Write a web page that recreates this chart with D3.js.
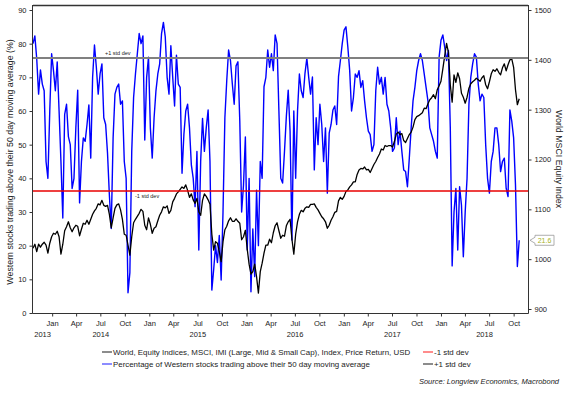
<!DOCTYPE html>
<html><head><meta charset="utf-8">
<script src="https://cdn.jsdelivr.net/npm/d3@7"></script>
<style>body{margin:0;background:#fff}svg{display:block;font-family:"Liberation Sans",Arial,sans-serif}</style>
</head><body><svg id="c" width="572" height="393"></svg>
<script>
// ---------- data ----------
const firstWeek = "2013-10-21";          // weekly observations start (Mondays)
const axisStart = "2013-10-21";
const axisEnd = "2018-11-24";

// Percentage of Western stocks trading above their 50 day moving average (left axis)
const pctAbove50dma = [
80,82.3,75.5,65,72.2,68,66,45,40,60,
77,72,66,74.6,60,45,28.2,59,62,52.4,
50,37,40,55,66.2,32.7,45,52,51,56,
61.8,46,70,79.6,73,65,71,74,58,56,
47.5,35,25.1,52,65,67,68,62,63,45,
40,6,12,48,64,71,77,83,80,82.3,
51.4,70,76,55,46,58,66,71,74,83,
86.3,82,70,65,79.4,70,61.5,76.6,68,67,
41.5,53,60,62,55,44,40,31.6,48,18.7,
45,57.8,48,55,60.3,45,6.8,13,20,15,
23,9.8,30,58,69,78.1,75,68,62,73.4,
74.6,57,30,38,52.3,18.7,40,6.3,25,10.8,
36.5,20,45,40,67.2,70,78.1,73,77,72,
82.6,80,60,40,38.6,48,58.4,66.2,54,21.7,
60,40,60,71,66,64,71.2,75.7,70,65,
70.1,42.5,58,50,62,56,45,55,35.6,53.4,
56,60.3,61.5,56,70.2,75,80,84,85,79,
72,60,64,71,70,72,67,69,63,58,
54,53,48,50,66,73,68,70,65,70,
62,60,55,48,49,58,50,54,48,42.5,
42,37.5,46,55,63,67,72,75,77,75,
71,67,63,55,53,51,48,46,76,81,
82.6,79,75,78,55,14,30,37,18.7,37.5,
32,16.7,30,40,62,70,74,77,76,68,
63,65,64,50,40,35.6,45,48,55,55,
50,42,45,46,37,34.6,60.3,57,52,38,
13.8,21.6];

// World MSCI IMI equity index, price return USD (right axis)
const worldIndex = [
1022,1030,1015,1030,1024,1030,1034,1028,1012,1032,
1045,1052,1050,1056,1045,1010,1030,1057,1065,1075,
1063,1055,1063,1068,1066,1047,1060,1072,1070,1078,
1070,1080,1090,1097,1102,1111,1109,1118,1108,1106,
1108,1090,1063,1083,1102,1109,1111,1099,1080,1050,
1048,1028,1008,1045,1073,1080,1086,1092,1100,1096,
1068,1059,1083,1070,1052,1062,1065,1077,1088,1095,
1105,1103,1107,1092,1098,1115,1122,1131,1135,1140,
1145,1142,1149,1138,1124,1131,1119,1112,1122,1095,
1088,1118,1131,1126,1119,1110,1050,1018,1035,1032,
1015,995,1035,1059,1066,1077,1083,1076,1076,1081,
1076,1072,1039,1045,1058,1020,990,970,975,990,
965,932,975,992,1012,1028,1028,1040,1033,1053,
1067,1073,1057,1042,1048,1046,1067,1075,1080,1040,
1010,1050,1075,1090,1098,1095,1102,1105,1104,1110,
1110,1111,1104,1099,1092,1085,1081,1075,1062,1068,
1078,1085,1094,1096,1117,1124,1120,1126,1136,1139,
1145,1149,1155,1155,1170,1179,1182,1181,1185,1179,
1180,1174,1182,1190,1196,1204,1211,1221,1219,1228,
1226,1228,1228,1225,1236,1251,1255,1250,1252,1238,
1234,1242,1250,1255,1265,1280,1286,1288,1291,1294,
1303,1302,1312,1320,1324,1330,1322,1340,1348,1357,
1382,1408,1433,1415,1350,1315,1370,1355,1374,1362,
1333,1325,1313,1325,1343,1352,1356,1359,1363,1360,
1357,1364,1368,1350,1342,1356,1372,1380,1377,1382,
1375,1370,1384,1392,1378,1390,1400,1402,1385,1340,
1310,1322];

const plusOneStd = 75.8;
const minusOneStd = 36.1;
const lastValueLabel = "21.6";

const leftTicks = [0,10,20,30,40,50,60,70,80,90];
const rightTicks = [900,1000,1100,1200,1300,1400,1500];
const quarterTickStart = "2014-01-01";
const yearLabels = [2013,2014,2015,2016,2017,2018];

const leftTitle = "Western stocks trading above their 50 day moving average (%)";
const rightTitle = "World MSCI Equity Index";
const legendRow1 = ["World, Equity Indices, MSCI, IMI (Large, Mid & Small Cap), Index, Price Return, USD", "-1 std dev"];
const legendRow2 = ["Percentage of Western stocks trading above their 50 day moving average", "+1 std dev"];
const sourceText = "Source: Longview Economics, Macrobond";

// ---------- drawing ----------
const parse = d3.timeParse("%Y-%m-%d");
const svg = d3.select("#c");
const L = 33, R = 528, T = 5, B = 313;

const x = d3.scaleTime().domain([parse(axisStart), parse(axisEnd)]).range([L, R]);
const yL = d3.scaleLinear().domain([0, 90]).range([B, 10]);
const yR = d3.scaleLinear().domain([900, 1500]).range([309, 10]);

const dates = pctAbove50dma.map((_, i) => d3.timeWeek.offset(parse(firstWeek), i));

svg.append("defs").append("clipPath").attr("id", "clip")
  .append("rect").attr("x", L).attr("y", T).attr("width", R - L).attr("height", B - T);

const plot = svg.append("g").attr("clip-path", "url(#clip)");

plot.append("path")
  .datum(pctAbove50dma)
  .attr("fill", "none").attr("stroke", "#0000ff").attr("stroke-width", 1.4)
  .attr("stroke-linejoin", "round")
  .attr("d", d3.line().x((d, i) => x(dates[i])).y(d => yL(d)));

plot.append("path")
  .datum(worldIndex)
  .attr("fill", "none").attr("stroke", "#000").attr("stroke-width", 1.3)
  .attr("stroke-linejoin", "round")
  .attr("d", d3.line().x((d, i) => x(dates[i])).y(d => yR(d)));

// std dev lines
const yPlus = Math.round(yL(plusOneStd)), yMinus = Math.round(yL(minusOneStd));
svg.append("line").attr("x1", L).attr("x2", R).attr("y1", yPlus).attr("y2", yPlus)
  .attr("stroke", "#808080").attr("stroke-width", 2);
svg.append("line").attr("x1", L).attr("x2", R).attr("y1", yMinus).attr("y2", yMinus)
  .attr("stroke", "#e80000").attr("stroke-width", 1.3);
svg.append("text").attr("x", 105).attr("y", yPlus - 3).attr("font-size", 5.5).attr("fill", "#222").text("+1 std dev");
svg.append("text").attr("x", 135).attr("y", yMinus + 7).attr("font-size", 5.5).attr("fill", "#222").text("-1 std dev");

// frame
const frame = svg.append("g").attr("stroke", "#333").attr("stroke-width", 1).attr("fill", "none");
frame.append("line").attr("x1", L).attr("x2", R).attr("y1", T + 0.5).attr("y2", T + 0.5).attr("stroke-width", 1.3);
frame.append("line").attr("x1", L - 0.5).attr("x2", L - 0.5).attr("y1", T).attr("y2", B + 0.5);
frame.append("line").attr("x1", R + 0.5).attr("x2", R + 0.5).attr("y1", T).attr("y2", B + 0.5);
frame.append("line").attr("x1", L - 0.5).attr("x2", R + 0.5).attr("y1", B + 0.5).attr("y2", B + 0.5);

// axes
const styleAxis = g => {
  g.select(".domain").remove();
  g.selectAll(".tick line").attr("stroke", "#333");
  g.selectAll(".tick text").attr("fill", "#222").attr("font-size", 7.5).attr("font-family", "'Liberation Sans',Arial,sans-serif");
};
svg.append("g").attr("transform", `translate(${L - 0.5},0)`)
  .call(d3.axisLeft(yL).tickValues(leftTicks).tickFormat(d3.format("d")).tickSize(3).tickPadding(3)).call(styleAxis);
svg.append("g").attr("transform", `translate(${R + 0.5},0)`)
  .call(d3.axisRight(yR).tickValues(rightTicks).tickFormat(d3.format("d")).tickSize(3).tickPadding(3)).call(styleAxis);

const quarters = d3.timeMonth.every(3).range(parse(quarterTickStart), parse(axisEnd));
svg.append("g").attr("transform", `translate(0,${B + 0.5})`)
  .call(d3.axisBottom(x).tickValues(quarters).tickFormat(d3.timeFormat("%b")).tickSize(3).tickPadding(4))
  .call(styleAxis);

// year labels centred on visible part of each year
const [d0, d1] = x.domain();
svg.append("g").selectAll("text").data(yearLabels).join("text")
  .attr("x", yr => {
    const a = new Date(Math.max(new Date(yr, 0, 1), d0));
    const b = new Date(Math.min(new Date(yr + 1, 0, 1), d1));
    return (x(a) + x(b)) / 2;
  })
  .attr("y", 337).attr("text-anchor", "middle").attr("font-size", 7.5).attr("fill", "#222")
  .text(d => d);

// axis titles
svg.append("text").attr("transform", `translate(13,${(T + B) / 2 + 3}) rotate(-90)`)
  .attr("text-anchor", "middle").attr("font-size", 8.8).attr("fill", "#222").text(leftTitle);
svg.append("text").attr("transform", `translate(556,${(T + B) / 2}) rotate(90)`)
  .attr("text-anchor", "middle").attr("font-size", 8.8).attr("fill", "#222").text(rightTitle);

// last value callout
const cy = yL(+lastValueLabel);
svg.append("path")
  .attr("d", `M530,${cy} L535,${cy - 3} L535,${cy - 5} L554,${cy - 5} L554,${cy + 5} L535,${cy + 5} L535,${cy + 3} Z`)
  .attr("fill", "#fff").attr("stroke", "#999").attr("stroke-width", 0.8);
svg.append("text").attr("x", 544.5).attr("y", cy + 2.5).attr("text-anchor", "middle")
  .attr("font-size", 7).attr("fill", "#a6b21e").text(lastValueLabel);

// legend
const legend = svg.append("g").attr("font-size", 7.9).attr("fill", "#222");
const legendItems = [
  {t: legendRow1[0], c: "#8c8c8c", x: 102, y: 352},
  {t: legendRow1[1], c: "#ff8c8c", x: 423, y: 352},
  {t: legendRow2[0], c: "#8c8cff", x: 102, y: 364},
  {t: legendRow2[1], c: "#8c8c8c", x: 423, y: 364}
];
legendItems.forEach(it => {
  legend.append("line").attr("x1", it.x).attr("x2", it.x + 10).attr("y1", it.y).attr("y2", it.y)
    .attr("stroke", it.c).attr("stroke-width", 2);
  legend.append("text").attr("x", it.x + 11).attr("y", it.y + 2.8).text(it.t);
});
svg.append("text").attr("x", 559).attr("y", 384).attr("text-anchor", "end")
  .attr("font-size", 7.5).attr("font-style", "italic").attr("fill", "#222").text(sourceText);
</script></body></html>
